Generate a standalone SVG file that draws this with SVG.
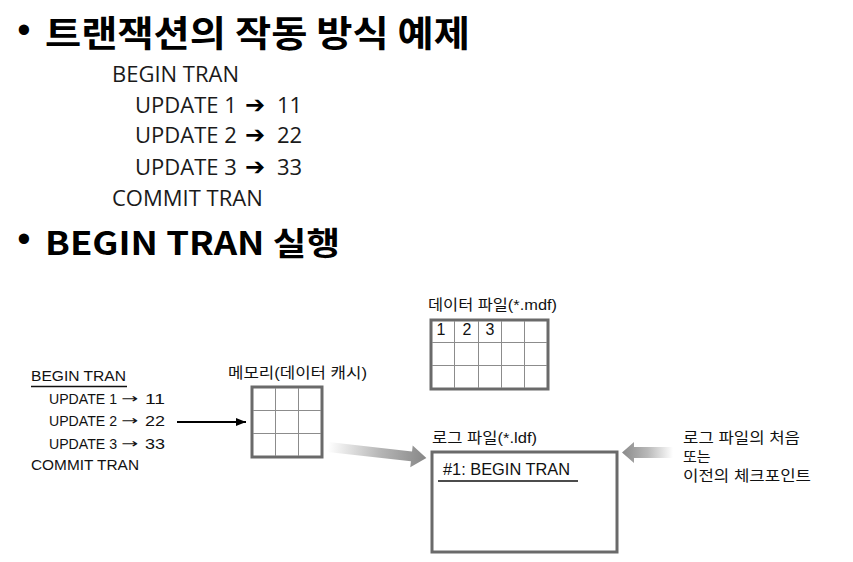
<svg xmlns="http://www.w3.org/2000/svg" width="853" height="562" viewBox="0 0 853 562">
<defs>
<style>
.title{font-family:"Noto Sans CJK KR","Noto Sans",sans-serif;font-weight:bold;font-size:36px;fill:#000}
.bullet{font-family:"Liberation Sans",sans-serif;font-size:38px;fill:#000}
.code{font-family:"Open Sans","Noto Sans CJK KR",sans-serif;font-size:22px;fill:#1a1a1a}
.arw{font-family:"DejaVu Sans",sans-serif;font-size:24px;fill:#000}
.sm{font-family:"Liberation Sans","Noto Sans CJK KR",sans-serif;font-size:15px;fill:#111}
.sa{font-family:"DejaVu Sans",sans-serif;font-size:13px;fill:#111}
.ko{font-family:"Liberation Sans","Noto Sans CJK KR",sans-serif;font-size:15px;fill:#111}
.outer{fill:#fff;stroke:#6a6a6a;stroke-width:3}
.inner{stroke:#8c8c8c;stroke-width:1;fill:none}
</style>
<linearGradient id="g1" gradientUnits="userSpaceOnUse" x1="328" y1="0" x2="426" y2="0">
<stop offset="0" stop-color="#ffffff"/>
<stop offset="0.55" stop-color="#b4b4b4"/>
<stop offset="1" stop-color="#888888"/>
</linearGradient>
<linearGradient id="g2" gradientUnits="userSpaceOnUse" x1="673" y1="0" x2="622" y2="0">
<stop offset="0" stop-color="#ffffff"/>
<stop offset="0.5" stop-color="#b8b8b8"/>
<stop offset="1" stop-color="#8a8a8a"/>
</linearGradient>
<marker id="ah" viewBox="0 0 10 10" refX="10" refY="5" markerWidth="5" markerHeight="5" orient="auto" markerUnits="strokeWidth">
<path d="M0,1 L10,5 L0,9 z" fill="#000"/>
</marker>
</defs>

<g id="title1">
<text class="bullet" x="24" y="43" text-anchor="middle">•</text>
<text class="title" x="45" y="47" textLength="425" lengthAdjust="spacingAndGlyphs">트랜잭션의 작동 방식 예제</text>
</g>

<g id="example-code">
<text class="code" x="112" y="82">BEGIN TRAN</text>
<text class="code" x="135" y="113">UPDATE 1</text><text class="arw" x="245" y="113">➔</text><text class="code" x="277" y="113">11</text>
<text class="code" x="135" y="143">UPDATE 2</text><text class="arw" x="245" y="143">➔</text><text class="code" x="277" y="143">22</text>
<text class="code" x="135" y="175">UPDATE 3</text><text class="arw" x="245" y="175">➔</text><text class="code" x="277" y="175">33</text>
<text class="code" x="112" y="206">COMMIT TRAN</text>
</g>

<g id="title2">
<text class="bullet" x="24" y="252" text-anchor="middle">•</text>
<text class="title" x="45" y="255" style="font-size:32px" textLength="295" lengthAdjust="spacingAndGlyphs">BEGIN TRAN 실행</text>
</g>

<g id="transaction">
<text class="sm" x="31" y="381" textLength="95" lengthAdjust="spacingAndGlyphs">BEGIN TRAN</text>
<line x1="31" y1="386.5" x2="127" y2="386.5" stroke="#111" stroke-width="1.3"/>
<text class="sm" x="49" y="404" textLength="68" lengthAdjust="spacingAndGlyphs">UPDATE 1</text><text class="sa" x="121" y="403" textLength="17" lengthAdjust="spacingAndGlyphs">→</text><text class="sm" x="145" y="404" textLength="20" lengthAdjust="spacingAndGlyphs">11</text>
<text class="sm" x="49" y="426" textLength="68" lengthAdjust="spacingAndGlyphs">UPDATE 2</text><text class="sa" x="121" y="425" textLength="17" lengthAdjust="spacingAndGlyphs">→</text><text class="sm" x="145" y="426" textLength="20" lengthAdjust="spacingAndGlyphs">22</text>
<text class="sm" x="49" y="449" textLength="68" lengthAdjust="spacingAndGlyphs">UPDATE 3</text><text class="sa" x="121" y="448" textLength="17" lengthAdjust="spacingAndGlyphs">→</text><text class="sm" x="145" y="449" textLength="20" lengthAdjust="spacingAndGlyphs">33</text>
<text class="sm" x="31" y="470" textLength="108" lengthAdjust="spacingAndGlyphs">COMMIT TRAN</text>
</g>

<g id="memory">
<text class="ko" x="228" y="378" textLength="139" lengthAdjust="spacingAndGlyphs">메모리(데이터 캐시)</text>
<rect class="outer" x="252" y="387" width="70" height="70"/>
<path class="inner" d="M275.5,388V456M298.5,388V456M253,410.5H321M253,433.5H321"/>
</g>

<g id="datafile">
<text class="ko" x="428" y="310" textLength="129" lengthAdjust="spacingAndGlyphs">데이터 파일(*.mdf)</text>
<rect class="outer" x="431" y="320" width="117" height="69"/>
<path class="inner" d="M454.5,321V388M478.5,321V388M501.5,321V388M524.5,321V388M432,342.5H547M432,365.5H547"/>
<text class="sm" x="441" y="335" text-anchor="middle" style="font-size:16px">1</text>
<text class="sm" x="467" y="335" text-anchor="middle" style="font-size:16px">2</text>
<text class="sm" x="490" y="335" text-anchor="middle" style="font-size:16px">3</text>
</g>

<g id="logfile">
<text class="ko" x="432" y="443" textLength="105" lengthAdjust="spacingAndGlyphs">로그 파일(*.ldf)</text>
<rect class="outer" x="432" y="452" width="185" height="100"/>
<text class="sm" x="443" y="475" style="font-size:16px" textLength="127" lengthAdjust="spacingAndGlyphs">#1: BEGIN TRAN</text>
<line x1="438" y1="481" x2="578" y2="481" stroke="#111" stroke-width="1.3"/>
</g>

<g id="note">
<text class="ko" x="683" y="443" textLength="117" lengthAdjust="spacingAndGlyphs">로그 파일의 처음</text>
<text class="ko" x="683" y="462">또는</text>
<text class="ko" x="683" y="481" textLength="128" lengthAdjust="spacingAndGlyphs">이전의 체크포인트</text>
</g>

<g id="connectors">
<line x1="177" y1="422" x2="246" y2="422" stroke="#000" stroke-width="2" marker-end="url(#ah)"/>
<g transform="rotate(6.4 328 447)">
<polygon points="328,442 412,442 412,436 427,447 412,458 412,452 328,452" fill="url(#g1)"/>
</g>
<polygon points="673,447 634,447 634,442 622,452.5 634,463 634,458 673,458" fill="url(#g2)"/>
</g>
</svg>
